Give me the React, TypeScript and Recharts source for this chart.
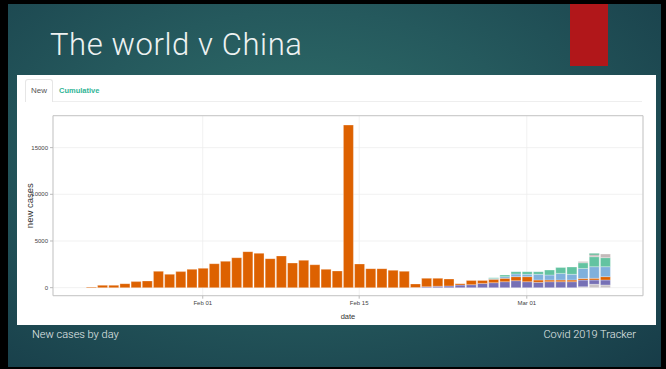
import { BarChart, Bar, XAxis, YAxis, CartesianGrid, ReferenceArea } from "recharts";

const dates = [
  "Jan 22", "Jan 23", "Jan 24", "Jan 25", "Jan 26", "Jan 27", "Jan 28", "Jan 29", "Jan 30", "Jan 31",
  "Feb 01", "Feb 02", "Feb 03", "Feb 04", "Feb 05", "Feb 06", "Feb 07", "Feb 08", "Feb 09", "Feb 10",
  "Feb 11", "Feb 12", "Feb 13", "Feb 14", "Feb 15", "Feb 16", "Feb 17", "Feb 18", "Feb 19", "Feb 20",
  "Feb 21", "Feb 22", "Feb 23", "Feb 24", "Feb 25", "Feb 26", "Feb 27", "Feb 28", "Feb 29", "Mar 01",
  "Mar 02", "Mar 03", "Mar 04", "Mar 05", "Mar 06", "Mar 07", "Mar 08",
];
const tickLabels = ["Feb 01", "Feb 15", "Mar 01"];

// China, every day
const china = [
  60, 250, 250, 430, 650, 720, 1750, 1430, 1720, 1960,
  2070, 2570, 2820, 3210, 3860, 3680, 3110, 3400, 2640, 2930,
  2460, 1960, 1790, 17420, 2540, 2040, 2040, 1860, 1750, 390,
  900, 850, 750, 150, 460, 320, 360, 360, 430, 540,
  250, 180, 180, 180, 180, 180, 360,
];

// rest of the world, from Feb 20 on
const spreadStart = "Feb 20";
const others = [0, 0, 0, 0, 0, 0, 0, 0, 0, 0, 0, 0, 0, 0, 0, 100, 360, 285];
const korea = [10, 100, 150, 180, 280, 320, 460, 535, 640, 750, 640, 570, 640, 640, 640, 710, 460, 535];
const italy = [0, 0, 0, 0, 0, 0, 0, 90, 180, 285, 250, 610, 535, 710, 610, 1070, 1250, 1070];
const iran = [0, 0, 0, 0, 0, 0, 0, 90, 180, 250, 285, 285, 535, 640, 785, 610, 1070, 965];
const rest = [0, 0, 0, 0, 0, 0, 0, 0, 0, 0, 0, 0, 0, 0, 0, 140, 210, 390];
const france = [0, 0, 0, 0, 0, 0, 0, 0, 0, 0, 0, 0, 0, 0, 0, 0, 140, 0];

const yTicks = [0, 5000, 10000, 15000];

const s0 = dates.indexOf(spreadStart);
const late = (arr: number[], i: number) => (i >= s0 ? arr[i - s0] : 0);
const rows = dates.map((d, i) => ({
  day: i,
  others: late(others, i),
  korea: late(korea, i),
  china: china[i],
  italy: late(italy, i),
  iran: late(iran, i),
  rest: late(rest, i),
  france: late(france, i),
}));

const series = [
  { key: "others", color: "#c9c3c6" },
  { key: "korea", color: "#7670b5" },
  { key: "china", color: "#dd6100" },
  { key: "italy", color: "#80b0dc" },
  { key: "iran", color: "#63c3a1" },
  { key: "rest", color: "#c4baba" },
  { key: "france", color: "#1e9a6a" },
];

const XMIN = -3.4, XMAX = 49.4, YMIN = -860, YMAX = 18420;
const chartFont = "'Liberation Sans', Arial, sans-serif";
const slideFont = "Roboto, 'Open Sans', sans-serif";

export default function App() {
  return (
    <div style={{ position: "absolute", left: 0, top: 0, width: 666, height: 369, background: "#000", overflow: "hidden" }}>
      <div
        style={{
          position: "absolute", left: 8, top: 4, width: 653, height: 363,
          background: "radial-gradient(ellipse at 45% 40%, #2f6f6a 0%, #25595d 45%, #173c48 100%)",
        }}
      />
      <div style={{ position: "absolute", left: 570, top: 4, width: 38, height: 62, background: "#b1171a" }} />
      <div style={{ position: "absolute", left: 50, top: 29, fontFamily: slideFont, fontWeight: 300, fontSize: 31, letterSpacing: 0.6, lineHeight: "31px", color: "#eef2f2", whiteSpace: "nowrap" }}>
        The world v China
      </div>
      <div style={{ position: "absolute", left: 32, top: 329, fontFamily: slideFont, fontWeight: 300, fontSize: 11, lineHeight: "11px", color: "#e6ecec" }}>
        New cases by day
      </div>
      <div style={{ position: "absolute", right: 30, top: 329, fontFamily: slideFont, fontWeight: 300, fontSize: 11, lineHeight: "11px", color: "#e6ecec" }}>
        Covid 2019 Tracker
      </div>

      <div style={{ position: "absolute", left: 17, top: 75, width: 639, height: 250, background: "#fff" }}>
        <div style={{ position: "absolute", left: 8, right: 14, top: 26, borderTop: "1px solid #eeeeee" }} />
        <div
          style={{
            position: "absolute", left: 8, top: 4, width: 26, height: 22, background: "#fff",
            border: "1px solid #e6e6e6", borderBottom: "none", borderRadius: "3px 3px 0 0",
            fontFamily: chartFont, fontSize: 8, lineHeight: "22px", color: "#555", textAlign: "center",
          }}
        >
          New
        </div>
        <div style={{ position: "absolute", left: 42, top: 5, fontFamily: chartFont, fontSize: 7.5, lineHeight: "22px", color: "#2fb596", fontWeight: 700 }}>
          Cumulative
        </div>

        <BarChart
          width={639}
          height={250}
          data={rows}
          margin={{ top: 40.7, right: 13, bottom: 3.3, left: 6 }}
          style={{ position: "absolute", left: 0, top: 0 }}
        >
          <CartesianGrid stroke="#ededed" strokeWidth={0.8} />
          <XAxis
            dataKey="day"
            type="number"
            domain={[XMIN, XMAX]}
            allowDataOverflow
            ticks={tickLabels.map((t) => dates.indexOf(t))}
            tickFormatter={(v: number) => dates[v]}
            axisLine={false}
            tickLine={{ stroke: "#bbb" }}
            tickSize={3}
            height={26}
            tick={{ fontSize: 6, fill: "#444", fontFamily: chartFont }}
            label={{ value: "date", position: "insideBottom", offset: 3, fontSize: 7.5, fill: "#333", fontFamily: chartFont, style: { fill: "#333" } }}
          />
          <YAxis
            type="number"
            domain={[YMIN, YMAX]}
            allowDataOverflow
            ticks={yTicks}
            axisLine={false}
            tickLine={{ stroke: "#bbb" }}
            tickSize={3}
            width={30}
            tick={{ fontSize: 6, fill: "#444", fontFamily: chartFont }}
            label={{ value: "new cases", angle: -90, position: "insideLeft", offset: 7, fontSize: 9.5, fill: "#333", fontFamily: chartFont, style: { textAnchor: "middle", fill: "#333" } }}
          />
          <ReferenceArea x1={XMIN} x2={XMAX} y1={YMIN} y2={YMAX} fill="none" stroke="#c6c6c6" strokeWidth={1} ifOverflow="visible" />
          {series.map((s) => (
            <Bar key={s.key} dataKey={s.key} stackId="a" fill={s.color} barSize={10} stroke="#fff" strokeWidth={0.3} isAnimationActive={false} />
          ))}
        </BarChart>
      </div>
    </div>
  );
}
